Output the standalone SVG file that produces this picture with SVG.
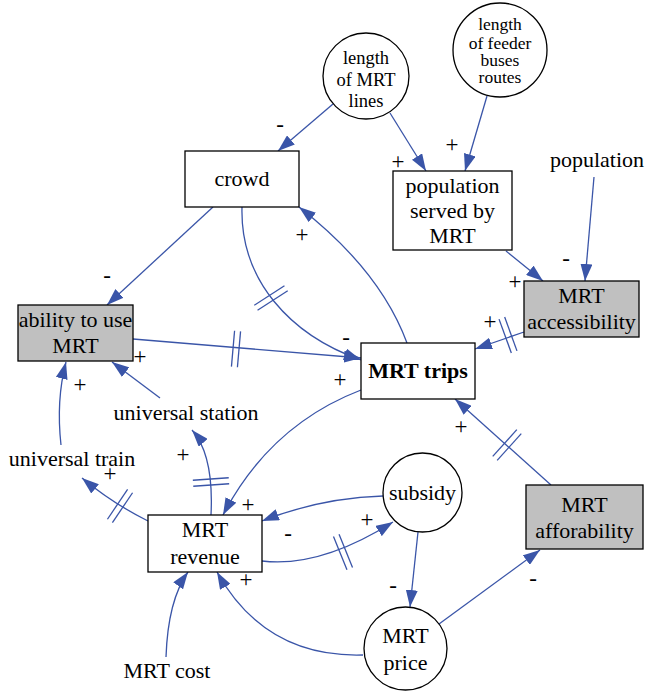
<svg xmlns="http://www.w3.org/2000/svg" xmlns:xlink="http://www.w3.org/1999/xlink" width="647" height="692" viewBox="0 0 647 692">
  <style>
    .box { fill: #ffffff; stroke: #000000; stroke-width: 1.3; }
    .grey { fill: #c0c0c0; }
    .circ { fill: #ffffff; stroke: #000000; stroke-width: 1.3; }
    .lbl { font-family: "Liberation Serif", "Times New Roman", serif; font-size: 22px; fill: #000000; text-anchor: middle; }
    .small { font-size: 18.5px; }
    .tiny { font-size: 17.5px; }
    .bold { font-weight: bold; }
    .edge { fill: none; stroke: #3a55a8; stroke-width: 1.3; marker-end: url(#arrow); }
    .dly line { stroke: #3a55a8; stroke-width: 1.3; }
    .sign { font-family: "Liberation Serif", "Times New Roman", serif; font-size: 23px; fill: #000000; text-anchor: middle; }
  </style>
  <defs>
    <marker id="arrow" markerUnits="userSpaceOnUse" markerWidth="17" markerHeight="12" refX="17" refY="6" orient="auto">
      <path d="M0,0 L17,6 L0,12 z" fill="#3a55a8"/>
    </marker>
    <g id="delay" class="dly">
      <line x1="-3" y1="-18" x2="-3" y2="18"/>
      <line x1="3" y1="-18" x2="3" y2="18"/>
    </g>
  </defs>

  <rect width="647" height="692" fill="#ffffff"/>

  <!-- connectors -->
  <g id="connectors">
    <path class="edge" d="M333,104 L278,151"/>
    <path class="edge" d="M390,113 L426,171"/>
    <path class="edge" d="M487,96 L465,171"/>
    <path class="edge" d="M594,177 L585,281"/>
    <path class="edge" d="M506,251 L543,281"/>
    <path class="edge" d="M524,332 L475,349"/>
    <path class="edge" d="M213,207 L107,305"/>
    <path class="edge" d="M242,207 C240,280 290,335 361,360"/>
    <path class="edge" d="M407,343 Q380,270 299,207"/>
    <path class="edge" d="M133,339 L361,358"/>
    <path class="edge" d="M160,398 L112,362"/>
    <path class="edge" d="M61,445 Q56,400 66,362"/>
    <path class="edge" d="M148,521 Q112,503 82,478"/>
    <path class="edge" d="M211,515 Q214,455 192,430"/>
    <path class="edge" d="M361,390 Q270,425 223,515"/>
    <path class="edge" d="M383,496 Q320,498 262,521"/>
    <path class="edge" d="M262,561 Q320,568 393,522"/>
    <path class="edge" d="M418,532 L410,607"/>
    <path class="edge" d="M439,624 L540,550"/>
    <path class="edge" d="M363,655 Q265,658 217,572"/>
    <path class="edge" d="M551,485 L455,399"/>
    <path class="edge" d="M166,657 Q168,600 188,572"/>

    <!-- delay marks -->
    <use xlink:href="#delay" transform="translate(271,298) rotate(57)"/>
    <use xlink:href="#delay" transform="translate(236,349) rotate(5)"/>
    <use xlink:href="#delay" transform="translate(508,335) rotate(160)"/>
    <use xlink:href="#delay" transform="translate(507,445) rotate(222)"/>
    <use xlink:href="#delay" transform="translate(120,506) rotate(214)"/>
    <use xlink:href="#delay" transform="translate(211,482) rotate(-94)"/>
    <use xlink:href="#delay" transform="translate(343,552) rotate(-22)"/>

    <!-- polarity signs -->
    <text class="sign" x="280" y="132">-</text>
    <text class="sign" x="398" y="169">+</text>
    <text class="sign" x="452" y="152">+</text>
    <text class="sign" x="566" y="266">-</text>
    <text class="sign" x="515" y="289">+</text>
    <text class="sign" x="490" y="329">+</text>
    <text class="sign" x="107" y="283">-</text>
    <text class="sign" x="346" y="345">-</text>
    <text class="sign" x="302" y="242">+</text>
    <text class="sign" x="340" y="387">+</text>
    <text class="sign" x="140" y="364">+</text>
    <text class="sign" x="80" y="392">+</text>
    <text class="sign" x="110" y="481">+</text>
    <text class="sign" x="183" y="462">+</text>
    <text class="sign" x="248" y="512">+</text>
    <text class="sign" x="288" y="541">-</text>
    <text class="sign" x="367" y="527">+</text>
    <text class="sign" x="393" y="593">-</text>
    <text class="sign" x="533" y="586">-</text>
    <text class="sign" x="246" y="587">+</text>
    <text class="sign" x="461" y="434">+</text>
  </g>

  <!-- nodes -->
  <g id="length-mrt-lines">
    <circle class="circ" cx="366" cy="76" r="43"/>
    <text class="lbl small" x="366" y="64">length</text>
    <text class="lbl small" x="366" y="86">of MRT</text>
    <text class="lbl small" x="366" y="107">lines</text>
  </g>
  <g id="length-feeder">
    <circle class="circ" cx="500" cy="50" r="47"/>
    <text class="lbl tiny" x="500" y="30">length</text>
    <text class="lbl tiny" x="500" y="49">of feeder</text>
    <text class="lbl tiny" x="500" y="66">buses</text>
    <text class="lbl tiny" x="500" y="83">routes</text>
  </g>
  <g id="crowd">
    <rect class="box" x="185" y="151" width="114" height="56"/>
    <text class="lbl" x="242" y="186">crowd</text>
  </g>
  <g id="population-served">
    <rect class="box" x="393" y="171" width="119" height="79"/>
    <text class="lbl" x="452.5" y="193">population</text>
    <text class="lbl" x="452.5" y="218">served by</text>
    <text class="lbl" x="452.5" y="243">MRT</text>
  </g>
  <g id="population">
    <text class="lbl" x="597" y="167">population</text>
  </g>
  <g id="mrt-accessibility">
    <rect class="box grey" x="524" y="281" width="115" height="56"/>
    <text class="lbl" x="581.5" y="303">MRT</text>
    <text class="lbl" x="581.5" y="329">accessibility</text>
  </g>
  <g id="ability">
    <rect class="box grey" x="18" y="305" width="115" height="56"/>
    <text class="lbl" x="75.5" y="327">ability to use</text>
    <text class="lbl" x="75.5" y="353">MRT</text>
  </g>
  <g id="mrt-trips">
    <rect class="box" x="361" y="343" width="114" height="56"/>
    <text class="lbl bold" x="418" y="378">MRT trips</text>
  </g>
  <g id="universal-station">
    <text class="lbl" x="186" y="420">universal station</text>
  </g>
  <g id="universal-train">
    <text class="lbl" x="72" y="466">universal train</text>
  </g>
  <g id="mrt-revenue">
    <rect class="box" x="148" y="515" width="114" height="57"/>
    <text class="lbl" x="205" y="537">MRT</text>
    <text class="lbl" x="205" y="564">revenue</text>
  </g>
  <g id="mrt-cost">
    <text class="lbl" x="167" y="678">MRT cost</text>
  </g>
  <g id="subsidy">
    <circle class="circ" cx="422.5" cy="492.5" r="39.5"/>
    <text class="lbl" x="422.5" y="500">subsidy</text>
  </g>
  <g id="mrt-price">
    <circle class="circ" cx="405.5" cy="648.5" r="41.5"/>
    <text class="lbl" x="405.5" y="643">MRT</text>
    <text class="lbl" x="405.5" y="670">price</text>
  </g>
  <g id="mrt-afforability">
    <rect class="box grey" x="526" y="485" width="117" height="64"/>
    <text class="lbl" x="584.5" y="512">MRT</text>
    <text class="lbl" x="584.5" y="538">afforability</text>
  </g>
</svg>
